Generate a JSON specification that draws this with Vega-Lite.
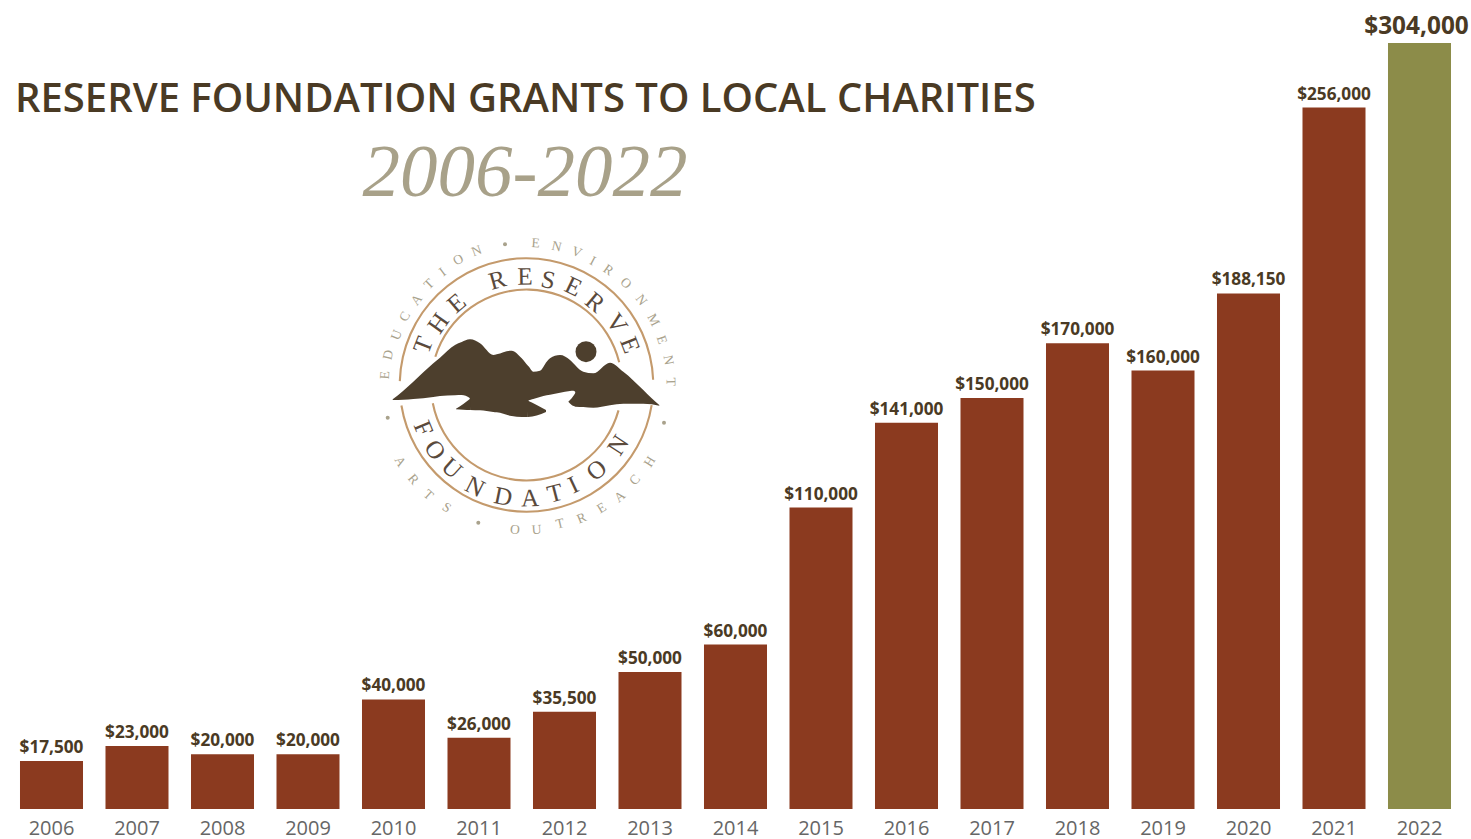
{"$schema":"https://vega.github.io/schema/vega-lite/v6.json","width":1471,"height":809,"padding":{"left":0,"top":0,"right":0,"bottom":30},"autosize":"none","background":"white","view":{"stroke":null},
"title":{"text":"RESERVE FOUNDATION GRANTS TO LOCAL CHARITIES","anchor":"start","frame":"group","orient":"top","offset":-152,"dx":15,"baseline":"alphabetic","font":"Open Sans","fontSize":40,"fontWeight":600,"color":"#4a3a24"},
"datasets":{
"grants":[{"year":"2006","drawn":17500,"label":"$17,500"},{"year":"2007","drawn":23000,"label":"$23,000"},{"year":"2008","drawn":20000,"label":"$20,000"},{"year":"2009","drawn":20000,"label":"$20,000"},{"year":"2010","drawn":40000,"label":"$40,000"},{"year":"2011","drawn":26000,"label":"$26,000"},{"year":"2012","drawn":35500,"label":"$35,500"},{"year":"2013","drawn":50000,"label":"$50,000"},{"year":"2014","drawn":60000,"label":"$60,000"},{"year":"2015","drawn":110000,"label":"$110,000"},{"year":"2016","drawn":141000,"label":"$141,000"},{"year":"2017","drawn":150000,"label":"$150,000"},{"year":"2018","drawn":170000,"label":"$170,000"},{"year":"2019","drawn":160000,"label":"$160,000"},{"year":"2020","drawn":188150,"label":"$188,150"},{"year":"2021","drawn":256000,"label":"$256,000"},{"year":"2022","drawn":279560,"label":"$304,000"}],
"center":[{"x":526.5,"y":385}],
"sun":[{"x":586,"y":351.7}],
"subtitle":[{"x":525,"y":196,"t":"2006-2022"}],
"dots":[{"x":505,"y":244.3},{"x":664,"y":422.7},{"x":387.7,"y":417.7},{"x":478.3,"y":522.7}],
"mountain":[{"p":"main","x":392.7,"y":399.3,"b":400},{"p":"main","x":403.3,"y":390.7,"b":399.7},{"p":"main","x":413.3,"y":381.7,"b":399},{"p":"main","x":433.3,"y":363.3,"b":397},{"p":"main","x":440,"y":357.7,"b":396},{"p":"main","x":455,"y":345,"b":395.3},{"p":"main","x":461.7,"y":342,"b":395},{"p":"main","x":469.7,"y":339.3,"b":398},{"p":"main","x":470.3,"y":339.3,"b":410},{"p":"main","x":480,"y":343.3,"b":410.3},{"p":"main","x":493.3,"y":355,"b":412},{"p":"main","x":496.7,"y":354.3,"b":412.3},{"p":"main","x":511.7,"y":350.7,"b":416},{"p":"main","x":521.7,"y":358.3,"b":417},{"p":"main","x":528,"y":365.7,"b":417},{"p":"main","x":528.3,"y":366,"b":400.7},{"p":"main","x":533.3,"y":371.7,"b":399},{"p":"main","x":540,"y":370.7,"b":397},{"p":"main","x":546.7,"y":361.7,"b":395.3},{"p":"main","x":550,"y":358.3,"b":394.7},{"p":"main","x":560,"y":355,"b":392.7},{"p":"main","x":570,"y":360,"b":391},{"p":"main","x":573.3,"y":363.3,"b":390.7},{"p":"main","x":575.3,"y":365.3,"b":392},{"p":"main","x":575.7,"y":365.7,"b":406.7},{"p":"main","x":583.3,"y":371.7,"b":407},{"p":"main","x":593.3,"y":373.3,"b":407.7},{"p":"main","x":610,"y":362.7,"b":405.3},{"p":"main","x":623.3,"y":371.7,"b":403.7},{"p":"main","x":643.3,"y":390,"b":403.7},{"p":"main","x":651.7,"y":398.3,"b":404.3},{"p":"main","x":659.3,"y":405,"b":405.7},
{"p":"lobeL","x":456,"y":408.7,"b":409.3},{"p":"lobeL","x":463.3,"y":404,"b":409.8},{"p":"lobeL","x":470.5,"y":398.5,"b":410},
{"p":"lobeR","x":528,"y":400.7,"b":417},{"p":"lobeR","x":536.7,"y":405,"b":415.5},{"p":"lobeR","x":546,"y":410,"b":412},
{"p":"notch","x":568.3,"y":401.7,"b":401.7},{"p":"notch","x":571.7,"y":398.3,"b":405},{"p":"notch","x":576,"y":392,"b":406.7}],
"brand":[{"ch":"T","x":423.3,"y":345,"rot":-68.8},{"ch":"H","x":438.3,"y":323.3,"rot":-54.8},{"ch":"E","x":456.7,"y":303.3,"rot":-40.4},{"ch":"R","x":497.3,"y":280,"rot":-15.5},{"ch":"E","x":525,"y":276.7,"rot":-0.8},{"ch":"S","x":548.3,"y":280,"rot":11.8},{"ch":"E","x":573.3,"y":286.7,"rot":25.6},{"ch":"R","x":595,"y":302.3,"rot":39.6},{"ch":"V","x":616.7,"y":323.3,"rot":55.4},{"ch":"E","x":630,"y":345,"rot":68.9},
{"ch":"F","x":423.3,"y":428.3,"rot":67.3},{"ch":"O","x":435,"y":450,"rot":54.6},{"ch":"U","x":451.7,"y":468.3,"rot":41.9},{"ch":"N","x":475,"y":486.7,"rot":26.9},{"ch":"D","x":503.3,"y":496.7,"rot":11.6},{"ch":"A","x":530,"y":498.3,"rot":-1.8},{"ch":"T","x":555,"y":493.3,"rot":-14.7},{"ch":"I","x":573.3,"y":485,"rot":-25.1},{"ch":"O","x":596.7,"y":470,"rot":-39.5},{"ch":"N","x":618.3,"y":445,"rot":-56.8}],
"motto":[{"ch":"E","x":385,"y":375,"rot":-86},{"ch":"D","x":388.3,"y":355,"rot":-77.7},{"ch":"U","x":396.7,"y":335,"rot":-69},{"ch":"C","x":405,"y":316.7,"rot":-60.7},{"ch":"A","x":416.7,"y":300,"rot":-52.3},{"ch":"T","x":429.3,"y":284.3,"rot":-43.9},{"ch":"I","x":442.7,"y":272.3,"rot":-36.7},{"ch":"O","x":458.3,"y":260,"rot":-28.6},{"ch":"N","x":476.7,"y":251,"rot":-20.4},
{"ch":"E","x":535.7,"y":243.3,"rot":3.7},{"ch":"N","x":556.7,"y":246.7,"rot":12.3},{"ch":"V","x":576.7,"y":252.3,"rot":20.6},{"ch":"I","x":592.7,"y":261,"rot":28},{"ch":"R","x":608.3,"y":270,"rot":35.5},{"ch":"O","x":625.7,"y":283.3,"rot":44},{"ch":"N","x":641,"y":300,"rot":53.4},{"ch":"M","x":653.3,"y":320,"rot":62.9},{"ch":"E","x":661.7,"y":340,"rot":71.6},{"ch":"N","x":668.3,"y":360,"rot":80},{"ch":"T","x":670.7,"y":381.7,"rot":88.8},
{"ch":"O","x":515,"y":530,"rot":4.5},{"ch":"U","x":536.7,"y":530,"rot":-4},{"ch":"T","x":560,"y":524,"rot":-13.5},{"ch":"R","x":581.7,"y":518.3,"rot":-22.5},{"ch":"E","x":601.7,"y":508.3,"rot":-31.4},{"ch":"A","x":620,"y":496.7,"rot":-39.9},{"ch":"C","x":635,"y":480,"rot":-48.8},{"ch":"H","x":650,"y":461.7,"rot":-58.2},
{"ch":"A","x":400,"y":461.7,"rot":58.8},{"ch":"R","x":413.3,"y":479.3,"rot":50.2},{"ch":"T","x":428.3,"y":495,"rot":41.7},{"ch":"S","x":446.7,"y":507.7,"rot":33.1}]
},
"layer":[
{"data":{"name":"grants"},
"encoding":{"x":{"field":"year","type":"ordinal","sort":null,"scale":{"range":[8.75,1462.25],"paddingInner":0.263,"paddingOuter":0.1315},"axis":{"title":null,"domain":false,"ticks":false,"labelAngle":0,"labelFont":"Open Sans","labelFontSize":20,"labelColor":"#666666","labelPadding":9,"grid":false}},
"y":{"field":"drawn","type":"quantitative","scale":{"domain":[0,295250],"range":[809,0],"nice":false},"axis":null}},
"layer":[
{"mark":{"type":"bar"},"encoding":{"color":{"condition":{"test":"datum.year==='2022'","value":"#8c8c49"},"value":"#8b3a1f"}}},
{"transform":[{"filter":"datum.year!=='2022'"}],"mark":{"type":"text","baseline":"alphabetic","dy":-8,"font":"Open Sans","fontWeight":700,"fontSize":17.2,"color":"#4a3a24"},"encoding":{"text":{"field":"label","type":"nominal"}}},
{"transform":[{"filter":"datum.year==='2022'"}],"mark":{"type":"text","baseline":"alphabetic","dy":-9,"dx":-3,"font":"Open Sans","fontWeight":700,"fontSize":24.4,"color":"#4a3a24"},"encoding":{"text":{"field":"label","type":"nominal"}}}
]},
{"encoding":{"x":{"field":"x","type":"quantitative","scale":{"domain":[0,1471],"range":[0,1471],"nice":false,"zero":false},"axis":null},"y":{"field":"y","type":"quantitative","scale":{"domain":[0,809],"range":[0,809],"nice":false,"zero":false},"axis":null}},
"layer":[
{"data":{"name":"subtitle"},"mark":{"type":"text","align":"center","baseline":"alphabetic","font":"Liberation Serif","fontStyle":"italic","fontSize":75,"color":"#a8a189"},"encoding":{"text":{"field":"t","type":"nominal"}}},
{"data":{"name":"center"},"mark":{"type":"arc","radius":127.8,"radius2":125.7,"theta":-1.54,"theta2":1.53,"color":"#c49a6c"}},
{"data":{"name":"center"},"mark":{"type":"arc","radius":127.8,"radius2":125.7,"theta":1.73,"theta2":4.55,"color":"#c49a6c"}},
{"data":{"name":"center"},"mark":{"type":"arc","radius":96.5,"radius2":94.4,"theta":-1.27,"theta2":1.33,"color":"#c49a6c"}},
{"data":{"name":"center"},"mark":{"type":"arc","radius":96.5,"radius2":94.4,"theta":1.84,"theta2":4.52,"color":"#c49a6c"}},
{"data":{"name":"mountain"},"mark":{"type":"area","interpolate":"monotone","color":"#4d3f2d"},"encoding":{"y2":{"field":"b"},"detail":{"field":"p","type":"nominal"}}},
{"data":{"name":"sun"},"mark":{"type":"point","shape":"circle","filled":true,"opacity":1,"size":441,"color":"#4d3f2d"}},
{"data":{"name":"dots"},"mark":{"type":"point","shape":"circle","filled":true,"opacity":1,"size":16,"color":"#a9a28c"}},
{"data":{"name":"brand"},"mark":{"type":"text","align":"center","baseline":"middle","font":"Liberation Serif","fontSize":25,"color":"#5a4a3c"},"encoding":{"text":{"field":"ch","type":"nominal"},"angle":{"field":"rot","type":"quantitative","scale":null}}},
{"data":{"name":"motto"},"mark":{"type":"text","align":"center","baseline":"middle","font":"Liberation Serif","fontSize":13.5,"color":"#a9a28c"},"encoding":{"text":{"field":"ch","type":"nominal"},"angle":{"field":"rot","type":"quantitative","scale":null}}}
]}
],
"resolve":{"scale":{"x":"independent","y":"independent"}}
}
